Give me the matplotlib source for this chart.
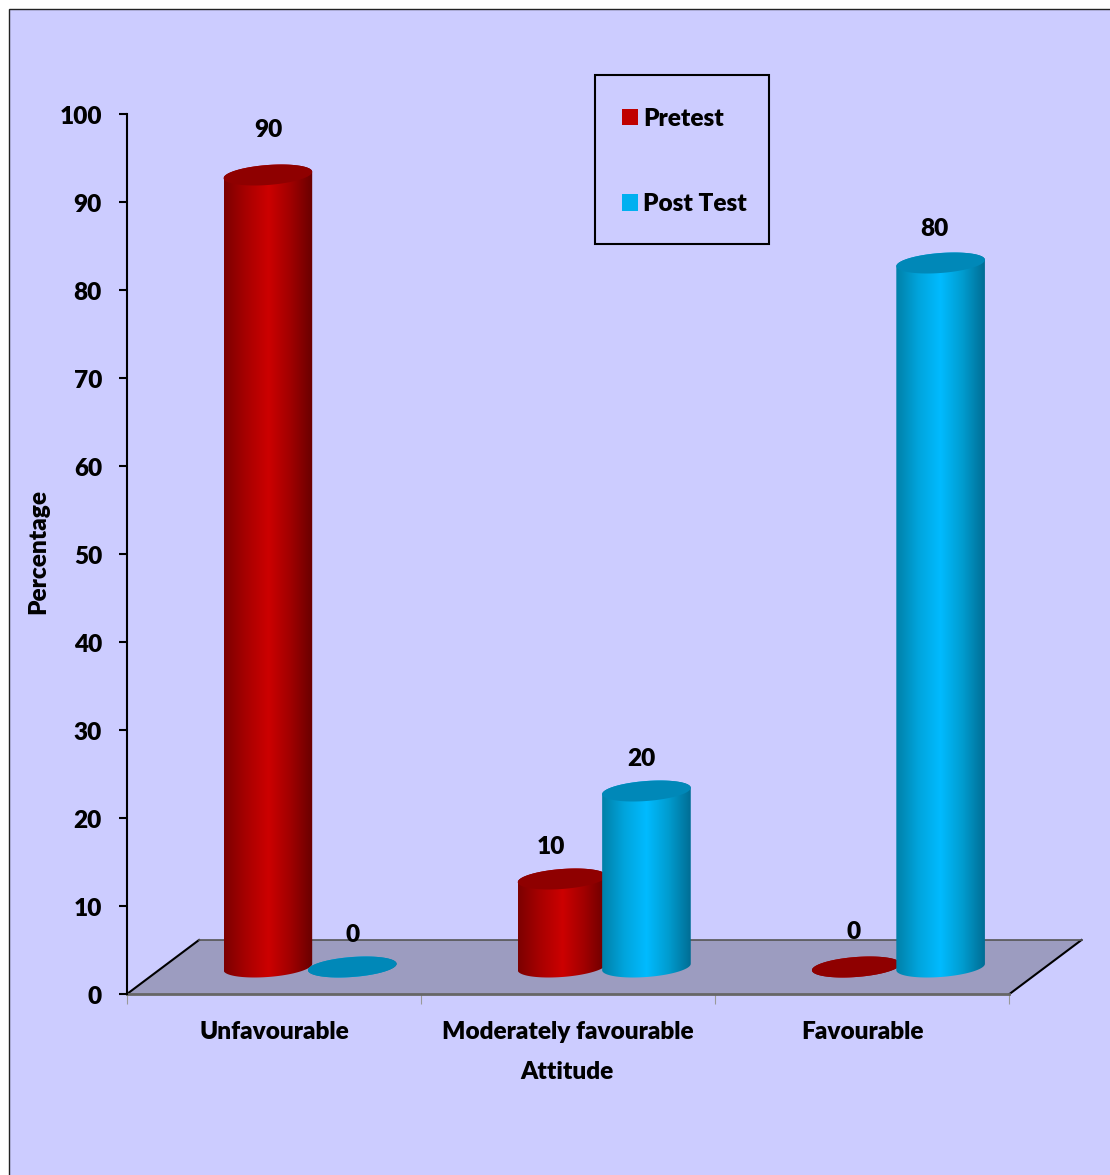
#!/usr/bin/env python3

import matplotlib
matplotlib.use("Agg")
import matplotlib.pyplot as plt
import numpy as np
from matplotlib.colors import LinearSegmentedColormap
from matplotlib.patches import PathPatch, Patch, Polygon, Rectangle
from matplotlib.path import Path
from matplotlib.transforms import Affine2D, ScaledTranslation

categories = ["Unfavourable", "Moderately favourable", "Favourable"]
pretest = [90, 10, 0]
post_test = [0, 20, 80]
y_ticks = [0, 10, 20, 30, 40, 50, 60, 70, 80, 90, 100]

W, H = 1110, 1175
LEFT, RIGHT, TOP, BOTTOM = 127, 1009.5, 114, 994

plt.rcParams['font.family'] = ['Lato', 'DejaVu Sans']
plt.rcParams['font.weight'] = 800
FONT = 17.6

fig = plt.figure(figsize=(W / 100, H / 100), dpi=100, facecolor='white')
ax = fig.add_axes([LEFT / W, 1 - BOTTOM / H, (RIGHT - LEFT) / W, (BOTTOM - TOP) / H])
ax.patch.set_visible(False)
XLIM = (-0.5, 2.5)
YLIM = (0, 100)

# one pixel in data units, the fake 3D is all laid out in pixels
ux = (XLIM[1] - XLIM[0]) / (RIGHT - LEFT)
uy = (YLIM[1] - YLIM[0]) / (BOTTOM - TOP)

# pixel coordinates measured from the top left corner
px = Affine2D().scale(1 / W, -1 / H).translate(0, 1) + fig.transFigure

fig.add_artist(Rectangle((8.5, 9), W, H, transform=px, facecolor='#ccccff',
                         edgecolor='#222222', linewidth=1, zorder=-10))

# floor of the 3D box
depth_x, depth_y = 72 * ux, 54 * uy
floor = Polygon([(XLIM[0], 0), (XLIM[1], 0), (XLIM[1] + depth_x, depth_y), (XLIM[0] + depth_x, depth_y)],
                closed=True, facecolor='#9c9cc0', edgecolor='none', clip_on=False, zorder=1)
ax.add_patch(floor)
ax.plot([XLIM[0], XLIM[0] + depth_x], [0, depth_y], color='black', lw=1.5, clip_on=False, zorder=2)
ax.plot([XLIM[1], XLIM[1] + depth_x], [0, depth_y], color='black', lw=1.5, clip_on=False, zorder=2)
ax.plot([XLIM[0] + depth_x, XLIM[1] + depth_x], [depth_y, depth_y], color='#555555', lw=1.2, clip_on=False, zorder=2)

red_cmap = LinearSegmentedColormap.from_list('red', ['#7c0000', '#a80000', '#cc0000', '#a00000', '#680000'])
blue_cmap = LinearSegmentedColormap.from_list('blue', ['#0080a8', '#00a4dc', '#00bbff', '#009ccf', '#006d94'])
gradient = np.linspace(0, 1, 256)[None, :]


def cylinder(center, value, cmap, lid_color, zorder):
    t = np.linspace(0, 2 * np.pi, 121)
    half_w = 44.3 * ux
    ex = half_w * np.cos(t)
    ey = 3.2 * uy * np.cos(t) + 10 * uy * np.sin(t)

    cx = center + 36 * ux
    base = 27 * uy
    top = base + value

    # lower half of the base, then upper half of the lid
    lower = t >= np.pi
    upper = t <= np.pi
    verts = np.vstack([np.column_stack([cx + ex[lower], base + ey[lower]]),
                       np.column_stack([cx + ex[upper], top + ey[upper]])])
    body = PathPatch(Path(np.vstack([verts, verts[0]])), facecolor='none', edgecolor='none',
                     transform=ax.transData, zorder=zorder)
    ax.add_patch(body)
    im = ax.imshow(gradient, cmap=cmap, aspect='auto', interpolation='bilinear',
                   extent=(cx - half_w, cx + half_w, 0, top + 20 * uy), zorder=zorder)
    im.set_clip_path(body)

    ax.add_patch(Polygon(np.column_stack([cx + ex, top + ey]), closed=True, facecolor=lid_color,
                         edgecolor='none', zorder=zorder + 0.1))
    return cx, top


# offsets of the value labels from the lid centre, in points
pre_label_offset = [(0.4, 32.3), (-8, 23.3), (-2, 25.3)]
post_label_offset = [(0, 23.3), (-4, 23.3), (-4.5, 24.3)]

bar_shift = 42.2 * ux
for i in range(len(categories)):
    cx, top = cylinder(i - bar_shift, pretest[i], red_cmap, '#8f0000', 3 + i)
    ax.annotate(str(pretest[i]), (cx, top), xytext=pre_label_offset[i], textcoords='offset points',
                ha='center', va='center', fontsize=FONT, annotation_clip=False, zorder=10)
    cx, top = cylinder(i + bar_shift, post_test[i], blue_cmap, '#0088b8', 3.5 + i)
    ax.annotate(str(post_test[i]), (cx, top), xytext=post_label_offset[i], textcoords='offset points',
                ha='center', va='center', fontsize=FONT, annotation_clip=False, zorder=10)

ax.set_xlim(*XLIM)
ax.set_ylim(*YLIM)

for side in ['top', 'right']:
    ax.spines[side].set_visible(False)
ax.spines['left'].set_linewidth(1.5)
ax.spines['left'].set_color('black')
ax.spines['bottom'].set_linewidth(2)
ax.spines['bottom'].set_color('#666666')
ax.spines['bottom'].set_zorder(2)

ax.set_yticks(y_ticks)
ax.tick_params(axis='y', length=6, width=1.5, color='black', pad=12, labelsize=FONT)
# digits sit a little low against their tick marks
nudge = ScaledTranslation(0, -1.5 / 100, fig.dpi_scale_trans)
for label in ax.get_yticklabels():
    label.set_transform(label.get_transform() + nudge)

ax.set_xticks([-0.5, 0.5, 1.5, 2.5], labels=[])
ax.tick_params(axis='x', which='major', length=7, width=0.8, color='#999999')
ax.set_xticks([0, 1, 2], labels=categories, minor=True)
ax.tick_params(axis='x', which='minor', length=0, pad=19.5, labelsize=FONT)

fig.text(567 / W, 1 - 1072 / H, "Attitude", ha='center', va='center', fontsize=FONT)
fig.text(38 / W, 1 - 552 / H, "Percentage", ha='center', va='center', rotation=90, fontsize=FONT)

# legend entries, with the frame drawn separately because it is much roomier than the entries
fig.add_artist(Rectangle((595, 75), 174, 169, transform=px, facecolor='none',
                         edgecolor='black', linewidth=1.5, zorder=5))
handles = [Patch(facecolor='#c00000', label='Pretest'), Patch(facecolor='#00b0f0', label='Post Test')]
ax.legend(handles=handles, loc='upper left', bbox_to_anchor=(622 / W, 1 - 107.5 / H),
          bbox_transform=fig.transFigure, frameon=False, borderpad=0, borderaxespad=0,
          handlelength=0.65, handleheight=0.65, handletextpad=0.2, labelspacing=2.6,
          fontsize=FONT)

fig.savefig('out.png', dpi=100)
